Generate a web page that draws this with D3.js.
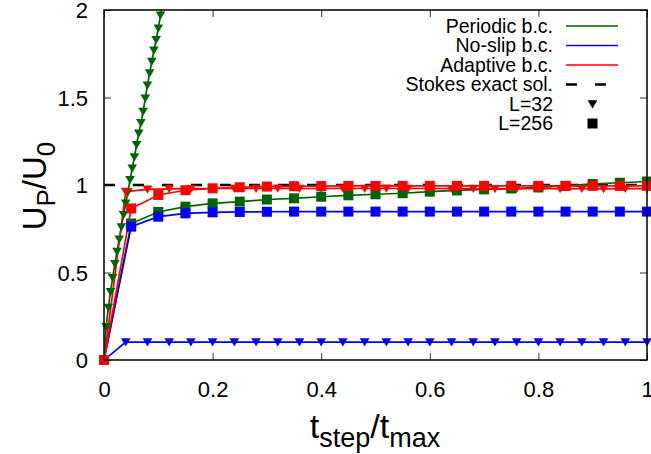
<!DOCTYPE html>
<html><head><meta charset="utf-8">
<script src="https://cdn.jsdelivr.net/npm/d3@7"></script>
<style>html,body{margin:0;padding:0;background:#fff;} svg{display:block;font-family:"Liberation Sans",Arial,sans-serif;}</style>
</head><body>
<svg id="chart" width="651" height="454"></svg>
<script>
// ---- data ----
const xTicks = [0, 0.2, 0.4, 0.6, 0.8, 1];
const yTicks = [0, 0.5, 1, 1.5, 2];
const xTickLabels = ["0", "0.2", "0.4", "0.6", "0.8", "1"];
const yTickLabels = ["0", "0.5", "1", "1.5", "2"];

// L=32 sampling times
const tL32 = [0, 0.04, 0.08, 0.12, 0.16, 0.2, 0.24, 0.28, 0.32, 0.36, 0.4, 0.44, 0.48, 0.52, 0.56, 0.6, 0.64, 0.68, 0.72, 0.76, 0.8, 0.84, 0.88, 0.92, 0.96, 1.0];
const noslipL32 = [0, 0.102, 0.102, 0.102, 0.102, 0.102, 0.102, 0.102, 0.102, 0.102, 0.102, 0.102, 0.102, 0.102, 0.102, 0.102, 0.102, 0.102, 0.102, 0.102, 0.102, 0.102, 0.102, 0.102, 0.102, 0.102];
const adaptiveL32 = [0, 0.962, 0.975, 0.978, 0.979, 0.98, 0.98, 0.98, 0.981, 0.98, 0.98, 0.981, 0.98, 0.981, 0.98, 0.98, 0.979, 0.98, 0.978, 0.978, 0.98, 0.978, 0.979, 0.978, 0.979, 0.979];
// periodic L=32 (fine sampling, grows out of range)
const tPeriodicL32 = [0, 0.004, 0.008, 0.012, 0.016, 0.02, 0.024, 0.028, 0.032, 0.036, 0.04, 0.044, 0.048, 0.052, 0.056, 0.06, 0.064, 0.068, 0.072, 0.076, 0.08, 0.084, 0.088, 0.092, 0.096, 0.1, 0.104, 0.108];
const periodicL32 = [0, 0.19, 0.30, 0.39, 0.47, 0.55, 0.62, 0.69, 0.76, 0.83, 0.895, 0.96, 1.03, 1.095, 1.16, 1.23, 1.295, 1.355, 1.42, 1.495, 1.57, 1.64, 1.705, 1.77, 1.83, 1.895, 1.97, 2.035];

// L=256 sampling times
const tL256 = [0, 0.05, 0.1, 0.15, 0.2, 0.25, 0.3, 0.35, 0.4, 0.45, 0.5, 0.55, 0.6, 0.65, 0.7, 0.75, 0.8, 0.85, 0.9, 0.95, 1.0];
const periodicL256 = [0, 0.78, 0.846, 0.876, 0.895, 0.905, 0.917, 0.924, 0.933, 0.941, 0.947, 0.953, 0.962, 0.969, 0.975, 0.98, 0.986, 0.995, 1.006, 1.013, 1.02];
const noslipL256 = [0, 0.762, 0.819, 0.838, 0.844, 0.846, 0.847, 0.848, 0.848, 0.848, 0.848, 0.848, 0.848, 0.848, 0.848, 0.848, 0.848, 0.848, 0.848, 0.848, 0.848];
const adaptiveL256 = [0, 0.866, 0.943, 0.97, 0.981, 0.987, 0.991, 0.993, 0.994, 0.995, 0.995, 0.995, 0.995, 0.995, 0.995, 0.995, 0.995, 0.995, 0.995, 0.995, 0.995];

const stokesT = [0, 1];
const stokesU = [1, 1];

const legendLabels = ["Periodic b.c.", "No-slip b.c.", "Adaptive b.c.", "Stokes exact sol.", "L=32", "L=256"];

// ---- styles ----
const GREEN = "#006400", BLUE = "#0000ff", RED = "#ff0000";
const margin = {left: 104, right: 4, top: 10, bottom: 94};
const W = 651, H = 454;

const svg = d3.select("#chart");
const x = d3.scaleLinear().domain([0, 1]).range([margin.left, W - margin.right]);
const y = d3.scaleLinear().domain([0, 2]).range([H - margin.bottom, margin.top]);

svg.append("defs").append("clipPath").attr("id", "clip")
  .append("rect").attr("x", x(0)).attr("y", y(2)).attr("width", x(1) - x(0)).attr("height", y(0) - y(2));

// axes: ticks inward (mirrored)
const tickLen = 7;
const axB = d3.axisBottom(x).tickValues(xTicks).tickSize(-tickLen).tickFormat((d, i) => xTickLabels[i]);
const axT = d3.axisTop(x).tickValues(xTicks).tickSize(-tickLen).tickFormat("");
const axL = d3.axisLeft(y).tickValues(yTicks).tickSize(-tickLen).tickFormat((d, i) => yTickLabels[i]);
const axR = d3.axisRight(y).tickValues(yTicks).tickSize(-tickLen).tickFormat("");

function styleAxis(g) {
  g.select(".domain").remove();
  g.selectAll(".tick line").attr("stroke", "#333").attr("stroke-width", 1);
  g.selectAll(".tick text").attr("fill", "#000").style("font-size", "22px");
}
const gB = svg.append("g").attr("transform", `translate(0,${y(0)})`).call(axB).call(styleAxis);
gB.selectAll(".tick text").attr("dy", null).attr("y", 37).attr("dominant-baseline", "auto");
svg.append("g").attr("transform", `translate(0,${y(2)})`).call(axT).call(styleAxis);
const gL = svg.append("g").attr("transform", `translate(${x(0)},0)`).call(axL).call(styleAxis);
gL.selectAll(".tick text").attr("x", -16).attr("dy", "0.35em");
svg.append("g").attr("transform", `translate(${x(1)},0)`).call(axR).call(styleAxis);

// plot
const plot = svg.append("g");
const clipped = plot.append("g").attr("clip-path", "url(#clip)");
const line = d3.line().x(d => x(d[0])).y(d => y(d[1]));
const zip = (a, b) => a.map((v, i) => [v, b[i]]);

// Stokes dashed
clipped.append("path").datum(zip(stokesT, stokesU)).attr("d", line)
  .attr("fill", "none").attr("stroke", "#000").attr("stroke-width", 2.5).attr("stroke-dasharray", "11,18");

function tri(px, py) {
  return `M${px - 4.8},${py - 3.8}L${px + 4.8},${py - 3.8}L${px},${py + 4.4}Z`;
}
function series(ts, vs, color, marker) {
  const pts = zip(ts, vs);
  clipped.append("path").datum(pts).attr("d", line)
    .attr("fill", "none").attr("stroke", color).attr("stroke-width", 1.7);
  const inside = pts.filter(p => p[1] <= 2);
  if (marker === "tri") {
    plot.append("g").selectAll("path").data(inside).join("path")
      .attr("d", p => tri(x(p[0]), y(p[1]))).attr("fill", color);
  } else {
    plot.append("g").selectAll("rect").data(inside).join("rect")
      .attr("x", p => x(p[0]) - 5).attr("y", p => y(p[1]) - 5)
      .attr("width", 10).attr("height", 10).attr("fill", color);
  }
}
series(tPeriodicL32, periodicL32, GREEN, "tri");
series(tL256, periodicL256, GREEN, "sq");
series(tL32, noslipL32, BLUE, "tri");
series(tL256, noslipL256, BLUE, "sq");
series(tL32, adaptiveL32, RED, "tri");
series(tL256, adaptiveL256, RED, "sq");

// border
svg.append("rect").attr("x", x(0)).attr("y", y(2)).attr("width", x(1) - x(0)).attr("height", y(0) - y(2))
  .attr("fill", "none").attr("stroke", "#000").attr("stroke-width", 1.5);

// legend
const legX = 553, legY0 = 26, legDy = 19.5;
const leg = svg.append("g");
legendLabels.forEach((lab, i) => {
  const cy = legY0 + i * legDy;
  leg.append("text").attr("x", legX).attr("y", cy).attr("text-anchor", "end")
    .attr("dy", "0.35em").style("font-size", "19.5px").attr("fill", "#000").text(lab);
  if (i < 3) {
    leg.append("line").attr("x1", 566).attr("x2", 618).attr("y1", cy).attr("y2", cy)
      .attr("stroke", [GREEN, BLUE, RED][i]).attr("stroke-width", 1.7);
  } else if (i === 3) {
    leg.append("line").attr("x1", 566).attr("x2", 618).attr("y1", cy).attr("y2", cy)
      .attr("stroke", "#000").attr("stroke-width", 2.5).attr("stroke-dasharray", "11,18");
  } else if (i === 4) {
    leg.append("path").attr("d", tri(592.5, cy)).attr("fill", "#000");
  } else {
    leg.append("rect").attr("x", 587.5).attr("y", cy - 5).attr("width", 10).attr("height", 10).attr("fill", "#000");
  }
});

// axis titles
const xt = svg.append("text").attr("x", 375).attr("y", 438).attr("text-anchor", "middle")
  .style("font-size", "34px").attr("fill", "#000");
xt.append("tspan").text("t");
xt.append("tspan").attr("dy", 9).style("font-size", "27px").text("step");
xt.append("tspan").attr("dy", -9).text("/t");
xt.append("tspan").attr("dy", 9).style("font-size", "27px").text("max");

const yt = svg.append("text").attr("transform", "translate(46,186) rotate(-90)").attr("text-anchor", "middle")
  .style("font-size", "33px").attr("fill", "#000");
yt.append("tspan").text("U");
yt.append("tspan").attr("dy", 9).style("font-size", "26px").text("P");
yt.append("tspan").attr("dy", -9).text("/U");
yt.append("tspan").attr("dy", 9).style("font-size", "26px").text("0");
</script>
</body></html>
